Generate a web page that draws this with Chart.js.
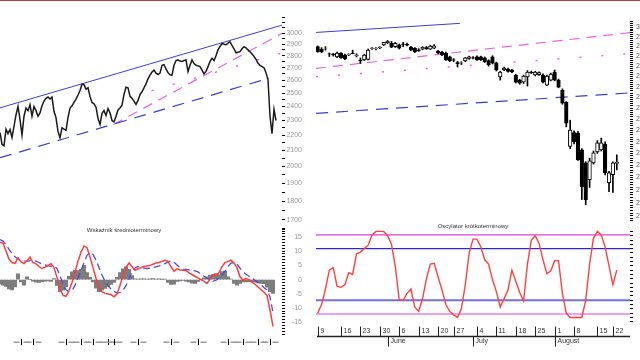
<!DOCTYPE html>
<html>
<head>
<meta charset="utf-8">
<script src="https://cdn.jsdelivr.net/npm/chart.js@4.4.1/dist/chart.umd.min.js"></script>
<style>
  html, body { margin: 0; padding: 0; background: #fff; width: 640px; height: 360px; overflow: hidden; position: relative; }
  canvas { position: absolute; }
  #topbar { position: absolute; left: 0; top: 0; width: 640px; height: 1px; background: #b4404c; }
  .ttl { position: absolute; font: 6px "Liberation Sans", Arial, sans-serif; color: #333; white-space: nowrap; transform: translateX(-50%); }
</style>
</head>
<body>
<div id="topbar"></div>
<canvas id="longPrice" width="320" height="236" style="left:0;top:0"></canvas>
<canvas id="longMacd" width="320" height="128" style="left:0;top:222px"></canvas>
<canvas id="shortPrice" width="360" height="236" style="left:312px;top:0"></canvas>
<canvas id="shortOsc" width="360" height="140" style="left:312px;top:220px"></canvas>
<div class="ttl" style="left:124px;top:227px">Wskaźnik średnioterminowy</div>
<div class="ttl" style="left:473px;top:223px">Oscylator krótkoterminowy</div>
<script>
// ---- long term (left) ----
const priceLong = [
  2216, 2140, 2130, 2240, 2210, 2238, 2185, 2260, 2340, 2400,
  2307, 2200, 2330, 2389, 2370, 2414, 2330, 2400, 2370, 2330,
  2354, 2405, 2440, 2460, 2470, 2455, 2470, 2365, 2320, 2225,
  2183, 2250, 2240, 2232, 2320, 2389, 2405, 2430, 2455, 2485,
  2520, 2568, 2565, 2530, 2540, 2475, 2430, 2420, 2395, 2315,
  2272, 2350, 2370, 2335, 2385, 2354, 2300, 2290, 2330, 2375,
  2389, 2410, 2490, 2545, 2540, 2475, 2460, 2440, 2415, 2445,
  2488, 2510, 2540, 2570, 2610, 2640, 2665, 2680, 2655, 2645,
  2656, 2720, 2725, 2690, 2660, 2643, 2640, 2720, 2760, 2765,
  2755, 2751, 2760, 2765, 2669, 2720, 2765, 2735, 2720, 2715,
  2709, 2680, 2650, 2670, 2709, 2750, 2779, 2760, 2800, 2850,
  2880, 2905, 2900, 2895, 2910, 2922, 2890, 2860, 2825, 2830,
  2835, 2860, 2878, 2868, 2850, 2835, 2815, 2795, 2770, 2737,
  2720, 2709, 2700, 2660, 2603, 2330, 2210, 2380, 2300
];
// trend lines: [start, end] index and value
const upperIdx = [0, 141],   upperVal = [2390, 3073];
const lowerIdx = [0, 134.5], lowerVal = [2054, 2616];
const midIdx   = [56.7, 141], midVal  = [2272, 2997];
const dotIdx   = [75.8, 141], dotVal  = [2518, 2824];

const macdLine = [
  13.1, 12.8, 10.0, 7.2, 6.0, 5.7, 7.6, 6.2, 5.6, 6.6,
  7.9, 6.0, 5.5, 4.6, 3.9, 4.3, 5.0, 5.6, 4.2, 0.8,
  -3.1, -5.5, -5.8, -3.8, -1.0, 2.7, 6.4, 9.6, 11.8, 11.2,
  7.9, 4.2, 0.5, -2.8, -4.2, -4.8, -5.0, -5.2, -6.0, -5.0,
  -2.0, 1.5, 4.2, 5.8, 4.6, 3.3, 3.8, 4.2, 4.6, 4.8,
  5.0, 5.4, 5.8, 6.0, 6.4, 6.8, 6.4, 4.5, 3.0, 3.8,
  3.4, 3.3, 3.2, 2.4, 1.8, 1.2, 0.6, 0.0, -0.6, -1.3,
  0.2, 1.8, 1.6, 2.4, 4.6, 6.0, 6.4, 6.8, 5.8, 4.2,
  1.0, -0.2, 0.4, 0.0, -0.9, -1.6, -2.5, -3.5, -4.4, -5.5,
  -10.6, -16.3
];
const macdSignal = [
  14.0, 13.5, 12.3, 10.6, 9.2, 8.0, 7.2, 6.8, 6.6, 6.5,
  6.6, 6.7, 6.5, 6.0, 5.5, 5.2, 4.9, 4.7, 4.7, 3.9,
  1.4, -1.5, -3.5, -4.2, -3.8, -2.0, 0.6, 3.2, 6.0, 8.5,
  9.5, 8.8, 6.9, 4.2, 1.6, -0.6, -2.1, -3.3, -4.1, -4.6,
  -4.5, -3.7, -2.1, 0.3, 2.8, 4.1, 4.6, 4.4, 4.0, 3.9,
  4.0, 4.2, 4.5, 4.8, 5.2, 5.6, 6.2, 6.6, 6.1, 5.1,
  4.2, 3.7, 3.6, 3.4, 3.3, 3.1, 2.7, 2.0, 1.2, 0.5,
  0.0, -0.6, -0.2, 0.6, 1.6, 3.0, 4.6, 5.8, 6.0, 5.5,
  4.0, 2.8, 1.9, 1.2, 0.5, -0.2, -1.0, -1.8, -2.8, -3.6,
  -6.0, -11.5
];
const macdHist = [
  -1.5, -1.9, -2.4, -3.2, -3.6, -2.5, 2.0, -0.8, -1.9, 1.0,
  0.0, -0.5, -0.9, -1.0, -0.7, -0.5, -0.4, -0.6, 0.4, -2.0,
  -4.2, -3.7, -2.5, 1.2, 2.7, 3.3, 3.2, 3.6, 5.0, 2.5,
  0.8, -0.8, -3.0, -4.2, -3.6, -3.1, -2.4, -1.7, -1.0, 0.8,
  2.5, 3.8, 4.5, 3.6, 1.4, 0.3, 0.2, 0.3, 0.3, 0.2,
  0.3, 0.4, 0.2, 0.3, 0.1, 0.2, -1.0, -1.7, -1.6, -0.6,
  -0.4, -0.3, -0.5, -0.8, -1.2, -1.3, -0.6, 0.0, 0.6, 1.0,
  1.6, 1.8, 2.1, 1.8, 2.8, 3.0, 1.0, 0.2, -1.3, -1.9,
  -1.3, -0.8, -0.8, -0.7, -0.8, -0.9, -1.1, -1.3, -1.4, -2.6,
  -4.2, -4.8
];
const macdAxisIdx = [7, 11, 22, 27, 31, 36, 38, 46, 57, 66, 76, 81, 86, 90];

// ---- short term (right) ----
const openS  = [2898, 2885, 2890, 2862, 2860, 2846, 2865, 2856, 2858, 2866, 2851, 2830, 2831, 2833, 2889, 2887, 2892, 2907, 2919, 2917,
  2898, 2907, 2912, 2910, 2896, 2890, 2882, 2886, 2894, 2886, 2891, 2876, 2871, 2866, 2846, 2832, 2818, 2816, 2826, 2838,
  2842, 2846, 2846, 2841, 2828, 2846, 2816, 2747, 2781, 2786, 2781, 2756, 2732, 2722, 2747, 2771, 2757, 2758, 2756, 2708,
  2732, 2771, 2732, 2684, 2627, 2430, 2490, 2488, 2415, 2360, 2291, 2360, 2406, 2415, 2440, 2279, 2311, 2358];
const highS  = [2902, 2893, 2898, 2866, 2864, 2870, 2868, 2860, 2862, 2880, 2862, 2841, 2860, 2886, 2894, 2893, 2898, 2920, 2930, 2925,
  2920, 2912, 2920, 2916, 2900, 2894, 2888, 2898, 2900, 2906, 2909, 2880, 2874, 2870, 2850, 2838, 2824, 2822, 2844, 2850,
  2848, 2852, 2850, 2846, 2832, 2852, 2820, 2775, 2795, 2790, 2785, 2760, 2736, 2756, 2778, 2776, 2775, 2772, 2762, 2756,
  2766, 2781, 2737, 2690, 2630, 2545, 2498, 2495, 2420, 2365, 2380, 2410, 2455, 2466, 2450, 2325, 2365, 2394];
const lowS   = [2870, 2868, 2880, 2848, 2850, 2842, 2838, 2832, 2852, 2862, 2846, 2813, 2828, 2831, 2884, 2882, 2888, 2904, 2914, 2893,
  2894, 2886, 2898, 2902, 2878, 2868, 2874, 2882, 2884, 2883, 2888, 2862, 2852, 2828, 2822, 2822, 2796, 2808, 2822, 2834,
  2836, 2828, 2828, 2818, 2800, 2812, 2776, 2732, 2778, 2770, 2768, 2718, 2712, 2716, 2703, 2764, 2752, 2754, 2718, 2705,
  2728, 2728, 2695, 2618, 2515, 2420, 2440, 2370, 2212, 2192, 2260, 2355, 2400, 2410, 2310, 2243, 2240, 2331];
const closeS = [2872, 2872, 2891, 2861, 2856, 2866, 2842, 2836, 2860, 2863, 2856, 2826, 2856, 2881, 2891, 2889, 2896, 2920, 2925, 2896,
  2915, 2891, 2910, 2906, 2881, 2871, 2877, 2896, 2888, 2901, 2903, 2866, 2856, 2831, 2826, 2830, 2812, 2817, 2841, 2846,
  2840, 2831, 2832, 2822, 2808, 2816, 2781, 2771, 2791, 2774, 2772, 2722, 2717, 2751, 2771, 2768, 2771, 2768, 2722, 2751,
  2761, 2732, 2698, 2623, 2532, 2501, 2450, 2373, 2263, 2212, 2369, 2402, 2445, 2445, 2319, 2319, 2360, 2362];
const sUpperIdx = [-0.4, 36.6], sUpperVal = [2972, 3020];
const sMidIdx   = [-0.4, 80.4], sMidVal   = [2789, 2971];
const sDotIdx   = [-0.4, 80.4], sDotVal   = [2748, 2863];
const sLowIdx   = [-0.4, 80.4], sLowVal   = [2576, 2671];

const oscLine = [
  5, 15, 33, 55, 58, 36, 35, 38, 52, 50,
  74, 76, 80, 84, 96, 100, 100, 100, 95, 85,
  59, 20, 20, 28, 33, 12, 7, 22, 45, 62,
  63, 47, 32, 15, 7, 3, 0, 10, 38, 75,
  91, 91, 82, 67, 62, 44, 30, 12, 22, 32,
  55, 42, 29, 19, 62, 90, 95, 86, 67, 51,
  54, 66, 66, 28, 5, 0, 0, 0, 0, 20,
  62, 92, 100, 96, 82, 60, 38, 55
];
const oscOuter = [96, 4];
const oscInner = [80, 20];
const weekIdx    = [0, 6, 11, 16, 21, 26, 31, 35, 41, 46, 51, 56, 61, 66, 72, 76];
const weekLabels = ['9', '16', '23', '30', '6', '13', '20', '27', '4', '11', '18', '25', '1', '8', '15', '22'];
const monthIdx    = [18, 40, 61];
const monthLabels = ['June', 'July', 'August'];

const BLUE = '#3c3cdc';
const PINK = '#e863e8';
const FONT = '"Liberation Sans", Arial, sans-serif';

Chart.defaults.font.family = FONT;
Chart.defaults.font.size = 7;
Chart.defaults.color = '#888';
Chart.defaults.animation = false;
Chart.defaults.plugins.legend.display = false;
Chart.defaults.plugins.tooltip.enabled = false;
Chart.defaults.elements.point.radius = 0;

const xy = arr => arr.map((v, i) => ({ x: i, y: v }));
const seg = (idx, val) => idx.map((x, k) => ({ x: x, y: val[k] }));
const steps = (a, b, s) => { const out = []; for (let v = a; v <= b + 1e-9; v += s) out.push({ value: Math.round(v * 100) / 100 }); return out; };

function sideAxis(extra) {
  return Object.assign({
    position: 'right',
    border: { display: false },
    grid: { drawOnChartArea: false, tickLength: 3, tickColor: '#000' },
  }, extra);
}

// left top: price, log scale
new Chart(document.getElementById('longPrice'), {
  type: 'line',
  data: {
    datasets: [
      { data: xy(priceLong), borderColor: '#1a1a1a', borderWidth: 1.5 },
      { data: seg(upperIdx, upperVal), borderColor: BLUE, borderWidth: 1 },
      { data: seg(lowerIdx, lowerVal), borderColor: BLUE, borderWidth: 1.2, borderDash: [12, 8] },
      { data: seg(midIdx, midVal), borderColor: PINK, borderWidth: 1.2, borderDash: [10, 7] },
      { data: seg(dotIdx, dotVal), borderColor: PINK, borderWidth: 1.5, borderDash: [2, 20] }
    ]
  },
  options: {
    responsive: false,
    layout: { padding: { top: 17, bottom: 5, left: 0, right: 18 } },
    scales: {
      x: { type: 'linear', min: 0, max: 141, display: false },
      y: sideAxis({
        type: 'logarithmic', min: 1650, max: 3150,
        afterFit: s => { s.width = 20; },
        afterBuildTicks: s => { s.ticks = steps(1650, 3150, 50); },
        ticks: { autoSkip: false, padding: 2, crossAlign: 'far', color: '#999',
          callback: v => (v % 100 === 0 && v >= 1700 && v <= 3000) ? String(v) : '' }
      })
    }
  }
});

// left bottom: MACD
const macdAxis = {
  id: 'macdAxis',
  afterDraw(chart) {
    const { ctx, chartArea: a } = chart;
    const xs = chart.scales.x;
    const y = a.bottom + 8;
    ctx.save();
    ctx.strokeStyle = '#000';
    ctx.fillStyle = '#999';
    ctx.lineWidth = 1;
    macdAxisIdx.forEach(i => {
      const px = Math.round(xs.getPixelForValue(i)) + 0.5;
      ctx.beginPath(); ctx.moveTo(px, y - 3); ctx.lineTo(px, y + 3); ctx.stroke();
      ctx.fillRect(px + 2, y - 0.5, 6, 1.5);
      ctx.fillRect(px - 8, y - 0.5, 6, 1.5);
    });
    ctx.restore();
  }
};
new Chart(document.getElementById('longMacd'), {
  type: 'line',
  data: {
    datasets: [
      { data: xy(macdLine), borderColor: '#ff3c3c', borderWidth: 1.5, order: 0 },
      { data: xy(macdSignal), borderColor: '#4a4ae6', borderWidth: 1.3, borderDash: [7, 4], order: 1 },
      { type: 'bar', data: xy(macdHist), backgroundColor: '#7d7d7d', barThickness: 3.4, order: 2 }
    ]
  },
  options: {
    responsive: false,
    layout: { padding: { top: 6, bottom: 16, left: 0, right: 18 } },
    scales: {
      x: { type: 'linear', min: 0, max: 94, offset: false, grid: { offset: false }, display: false },
      y: sideAxis({
        min: -19, max: 18,
        afterFit: s => { s.width = 20; },
        afterBuildTicks: s => { s.ticks = steps(-19, 18, 1); },
        ticks: { autoSkip: false, padding: 2, crossAlign: 'far', color: '#999',
          callback: v => (v % 5 === 0 && Math.abs(v) <= 15) ? String(v) : '' }
      })
    }
  },
  plugins: [macdAxis]
});

// right top: candles
const candleUp = closeS.map((c, i) => c >= openS[i]);
new Chart(document.getElementById('shortPrice'), {
  type: 'bar',
  data: {
    datasets: [
      { data: openS.map((o, i) => ({ x: i, y: [o, closeS[i]] })), grouped: false, barThickness: 3.6,
        backgroundColor: candleUp.map(u => u ? '#fff' : '#000'), borderColor: '#000', borderWidth: 1, borderSkipped: false, order: 0 },
      { data: lowS.map((l, i) => ({ x: i, y: [l, highS[i]] })), grouped: false, barThickness: 1,
        backgroundColor: '#000', order: 1 },
      { type: 'line', data: seg(sUpperIdx, sUpperVal), borderColor: BLUE, borderWidth: 1, order: 2 },
      { type: 'line', data: seg(sMidIdx, sMidVal), borderColor: PINK, borderWidth: 1.2, borderDash: [10, 7], order: 2 },
      { type: 'line', data: seg(sDotIdx, sDotVal), borderColor: PINK, borderWidth: 1.5, borderDash: [2, 20], order: 2 },
      { type: 'line', data: seg(sLowIdx, sLowVal), borderColor: BLUE, borderWidth: 1.2, borderDash: [12, 8], order: 2 }
    ]
  },
  options: {
    responsive: false,
    layout: { padding: { top: 20, bottom: 14, left: 4, right: 0 } },
    scales: {
      x: { type: 'linear', min: -0.43, max: 80.4, offset: false, grid: { offset: false }, display: false },
      y: sideAxis({
        type: 'logarithmic', min: 2126, max: 3038,
        afterFit: s => { s.width = 42; },
        afterBuildTicks: s => { s.ticks = steps(2130, 3030, 10); },
        ticks: { autoSkip: false, padding: 3, color: '#555',
          callback: v => (v % 50 === 0) ? String(v) : '' }
      })
    }
  }
});

// right bottom: oscillator with date axis
const dateAxis = {
  id: 'dateAxis',
  afterDraw(chart) {
    const { ctx, chartArea: a } = chart;
    const xs = chart.scales.x;
    const base = a.bottom + 14.5;
    ctx.save();
    ctx.strokeStyle = '#222';
    ctx.fillStyle = '#333';
    ctx.font = '7px ' + FONT;
    ctx.textBaseline = 'middle';
    ctx.lineWidth = 1.5;
    ctx.beginPath(); ctx.moveTo(a.left + 1, base); ctx.lineTo(a.right, base); ctx.stroke();
    ctx.lineWidth = 1;
    weekIdx.forEach((d, k) => {
      const px = Math.round(xs.getPixelForValue(d)) + 0.5;
      ctx.beginPath(); ctx.moveTo(px, base - 10); ctx.lineTo(px, base); ctx.stroke();
      ctx.fillText(weekLabels[k], px + 2, base - 5);
    });
    monthIdx.forEach((d, k) => {
      const px = Math.round(xs.getPixelForValue(d)) + 0.5;
      ctx.beginPath(); ctx.moveTo(px, base); ctx.lineTo(px, base + 10); ctx.stroke();
      ctx.fillText(monthLabels[k], px + 2, base + 5);
    });
    ctx.restore();
  }
};
const xEnds = [-0.43, 80.4];
new Chart(document.getElementById('shortOsc'), {
  type: 'line',
  data: {
    datasets: [
      { data: xy(oscLine), borderColor: '#ff4040', borderWidth: 1.4 },
      { data: seg(xEnds, [oscOuter[0], oscOuter[0]]), borderColor: '#e040e0', borderWidth: 1.2 },
      { data: seg(xEnds, [oscOuter[1], oscOuter[1]]), borderColor: '#e040e0', borderWidth: 1.2 },
      { data: seg(xEnds, [oscInner[0], oscInner[0]]), borderColor: '#2a2ad0', borderWidth: 1.2 },
      { data: seg(xEnds, [oscInner[1], oscInner[1]]), borderColor: '#7070e0', borderWidth: 2.2 }
    ]
  },
  options: {
    responsive: false,
    layout: { padding: { top: 5, bottom: 38, left: 4, right: 0 } },
    scales: {
      x: { type: 'linear', min: xEnds[0], max: xEnds[1], display: false },
      y: sideAxis({
        min: -5.3, max: 104.9,
        afterFit: s => { s.width = 42; },
        afterBuildTicks: s => { s.ticks = steps(-5, 100, 5); },
        ticks: { autoSkip: false, padding: 3, callback: () => '' }
      })
    }
  },
  plugins: [dateAxis]
});
</script>
</body>
</html>
